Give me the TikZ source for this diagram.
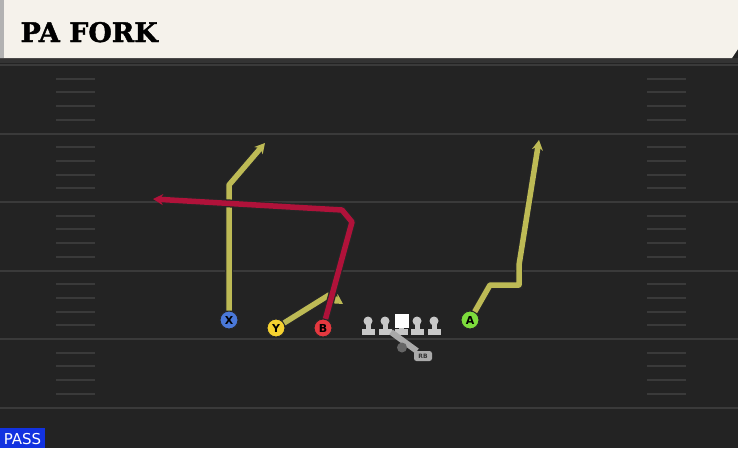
\documentclass[tikz,border=0pt]{standalone}
\usepackage{fontspec}
\usetikzlibrary{arrows.meta}
\newfontfamily\slabfont{DejaVu Serif}[BoldFeatures={FakeBold=1.5}]
\newfontfamily\labelfont{DejaVu Sans}

\definecolor{fieldgray}{HTML}{232323}
\definecolor{linegray}{HTML}{3A3A3A}
\definecolor{headcream}{HTML}{F5F2EB}
\definecolor{routeolive}{HTML}{BDBA55}
\definecolor{routered}{HTML}{B0123A}
\definecolor{xblue}{HTML}{4A78D8}
\definecolor{yyellow}{HTML}{F5D130}
\definecolor{bred}{HTML}{E5383F}
\definecolor{agreen}{HTML}{7DDC3C}
\definecolor{lineman}{HTML}{C8C8C8}
\definecolor{passblue}{HTML}{1232E0}

\tikzset{
  player/.style={circle, draw=black!85, line width=1pt, inner sep=0pt,
    minimum size=18pt, font=\labelfont\bfseries\fontsize{11}{11}\selectfont},
  route/.style={line width=5.5pt, line join=round,
    preaction={draw=black!85, line width=8pt}},
}

\begin{document}
\begin{tikzpicture}[x=1pt, y=-1pt, >={Stealth[length=10pt, width=11pt]}]
\useasboundingbox (0, 0) rectangle (738, 448);

%% field
\fill[fieldgray] (0, 0) rectangle (738, 448);
\fill[black!80] (0, 58) rectangle (738, 63);
\foreach \y in {65, 133.5, 202, 270.5, 339, 407.5}
  \draw[linegray, line width=2pt] (0, \y) -- (738, \y);
%% hash marks
\foreach \y in {65, 133.5, 202, 270.5, 339}
  \foreach \k in {1, 2, 3, 4} {
    \draw[linegray, line width=2pt] (56, \y + 13.7*\k) -- (95, \y + 13.7*\k);
    \draw[linegray, line width=2pt] (647, \y + 13.7*\k) -- (686, \y + 13.7*\k);
  }

%% header
\fill[headcream] (0, 0) -- (738, 0) -- (738, 49) -- (732, 58) -- (0, 58) -- cycle;
\fill[black!30] (0, 0) rectangle (4, 58);
\node[anchor=base west, font=\slabfont\bfseries\fontsize{27}{27}\selectfont]
  (title) at (17, 42) {PA FORK};

%% offensive line
\foreach \x in {368, 385, 417, 434} {
  \fill[lineman] (\x, 321) circle (4.5);
  \fill[lineman] (\x - 2.5, 321) rectangle (\x + 2.5, 331);
  \fill[lineman] (\x - 6.5, 329) rectangle (\x + 6.5, 335);
}
\fill[lineman] (399, 325) rectangle (404, 331);
\fill[lineman] (395, 329) rectangle (408, 335);
\fill[white] (394.5, 313.5) rectangle (408.5, 327.5);

%% running back
\draw[lineman!85!black, line width=6pt] (391, 332) -- (417, 351);
\fill[black!60] (402, 347.5) circle (5);
\node[fill=lineman!85!black, rounded corners=2.5pt, inner sep=1pt, minimum width=18pt,
  minimum height=10pt, font=\labelfont\bfseries\fontsize{6}{6}\selectfont, text=black!80]
  (rb) at (423, 356) {RB};

%% receivers
\node[player, fill=xblue] (X) at (229, 320) {X};
\node[player, fill=yyellow] (Y) at (276, 328) {Y};
\node[player, fill=bred] (B) at (323, 328) {B};
\node[player, fill=agreen] (A) at (470, 320) {A};

%% routes
\draw[route, routeolive, ->] (X) -- (229, 185) -- (265, 143);
\draw[route, routeolive, ->] (Y) -- (329, 295) -- (343, 304);
\draw[route, routered, ->] (B) -- (352, 222) -- (342, 210) -- (153, 199);
\draw[route, routeolive, ->] (A) -- (490, 285) -- (519, 285) -- (519, 265) -- (539, 140);

%% play type
\fill[passblue] (0, 428) rectangle (45, 448);
\node[anchor=base, text=white, font=\labelfont\fontsize{15}{15}\selectfont]
  (pass) at (22.5, 444) {PASS};
\end{tikzpicture}
\end{document}
